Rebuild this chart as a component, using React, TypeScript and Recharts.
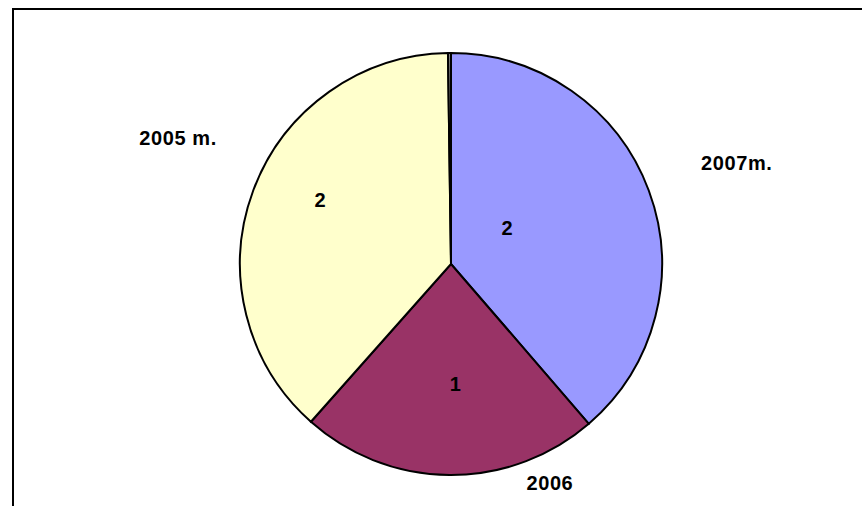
import React from 'react'
import { Cell, Pie, PieChart } from 'recharts'

const years = ['2007m.', '2006', '2005 m.', '']
const amounts = [1.69, 1.0, 1.67, 0.01]
const sliceColors = ['#9999FF', '#993366', '#FFFFCC', '#808080']

// where the labels sit: angle clockwise from 12 o'clock, distance as a share of the radius
const innerLabelSpots = [
  { angle: 57.3, dist: 0.316 },
  { angle: 178, dist: 0.569 },
  { angle: 296, dist: 0.691 },
]
const outerLabelSpots = [
  { angle: 70.5, dist: 1.437 },
  { angle: 155.7, dist: 1.139 },
  { angle: 294.8, dist: 1.425 },
]

const data = years.map((year, i) => ({ year, amount: amounts[i] }))

const font = '"Liberation Sans", Arial, sans-serif'

function polar(cx: number, cy: number, r: number, angle: number) {
  const rad = (angle * Math.PI) / 180
  return { x: cx + r * Math.sin(rad), y: cy - r * Math.cos(rad) }
}

function renderLabel(props: any) {
  const { cx, cy, outerRadius, index, value } = props
  if (index >= innerLabelSpots.length) return null
  const inner = polar(cx, cy, outerRadius * innerLabelSpots[index].dist, innerLabelSpots[index].angle)
  const outer = polar(cx, cy, outerRadius * outerLabelSpots[index].dist, outerLabelSpots[index].angle)
  const textStyle = { fontFamily: font, fontSize: 20, fontWeight: 700, fill: '#000' }
  return (
    <g>
      <text x={inner.x} y={inner.y} textAnchor="middle" dominantBaseline="central" style={textStyle}>
        {Math.round(value)}
      </text>
      <text
        x={outer.x}
        y={outer.y}
        textAnchor="middle"
        dominantBaseline="central"
        style={{ ...textStyle, letterSpacing: 0.6 }}
      >
        {years[index]}
      </text>
    </g>
  )
}

export default function App() {
  return (
    <div
      style={{
        position: 'absolute',
        left: 0,
        top: 0,
        width: 862,
        height: 506,
        overflow: 'hidden',
        background: '#fff',
      }}
    >
      <div
        style={{
          position: 'absolute',
          left: 12,
          top: 8,
          width: 900,
          height: 600,
          border: '2px solid #000',
        }}
      />
      <div style={{ position: 'absolute', left: 0, top: 0 }}>
        <PieChart width={862} height={506}>
          <Pie
            data={data}
            dataKey="amount"
            nameKey="year"
            cx={446}
            cy={259}
            outerRadius={211}
            startAngle={90}
            endAngle={-270}
            stroke="#000"
            strokeWidth={2}
            label={renderLabel}
            labelLine={false}
            isAnimationActive={false}
          >
            {data.map((d, i) => (
              <Cell key={i} fill={sliceColors[i]} />
            ))}
          </Pie>
        </PieChart>
      </div>
    </div>
  )
}
